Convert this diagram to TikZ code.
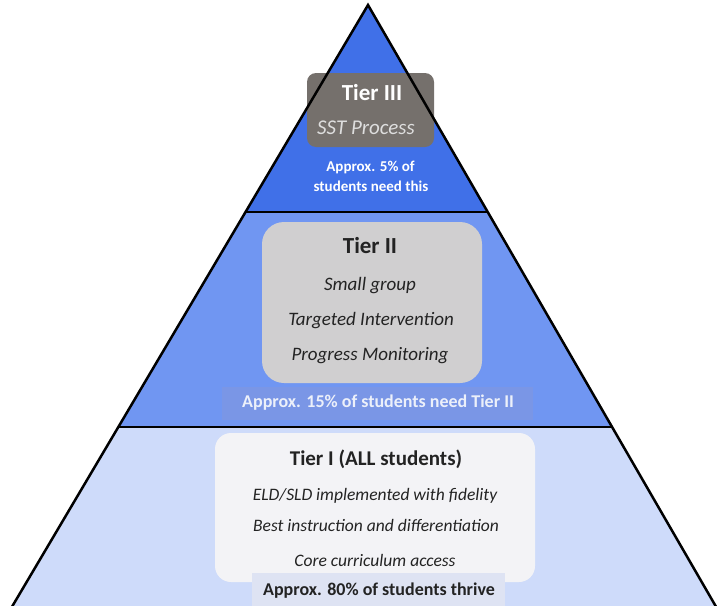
\documentclass[tikz,border=0pt]{standalone}
\usepackage{fontspec}
\setmainfont{Carlito}
\definecolor{tierthree}{RGB}{64,112,232}
\definecolor{tiertwo}{RGB}{112,150,242}
\definecolor{tierone}{RGB}{206,219,250}
\definecolor{boxthree}{RGB}{117,112,108}
\definecolor{boxtwo}{RGB}{208,207,208}
\definecolor{boxone}{RGB}{243,243,246}
\definecolor{bandtwo}{RGB}{122,150,230}
\definecolor{bandone}{RGB}{222,227,243}
\definecolor{darktext}{RGB}{35,35,35}
\definecolor{lighttext}{RGB}{236,240,250}
\definecolor{ssttext}{RGB}{222,222,222}
\begin{document}
\begin{tikzpicture}[x=1pt,y=-1pt,
  outline/.style={line width=2.5pt,black,line join=miter},
  panel/.style={rectangle,inner sep=0pt},
  txt/.style={inner sep=0pt,text height=0.64em,text depth=0pt,anchor=center},
  boldtxt/.style={txt,font=\bfseries},
  itxt/.style={txt,font=\itshape}]
\useasboundingbox (0,0) rectangle (717,605);
\clip (0,0) rectangle (717,605);
% corner coordinates
\coordinate (apex) at (368,5);
\coordinate (l1) at (245.5,212);
\coordinate (r1) at (487.7,212);
\coordinate (l2) at (118.3,427);
\coordinate (r2) at (612.1,427);
\coordinate (lb) at (1.2,625);
\coordinate (rb) at (726.6,625);
% tier fills
\fill[tierthree] (apex) -- (l1) -- (r1) -- cycle;
\fill[tiertwo] (l1) -- (r1) -- (r2) -- (l2) -- cycle;
\fill[tierone] (l2) -- (r2) -- (rb) -- (lb) -- cycle;
% boxes
\node[panel,fill=boxthree,rounded corners=9pt,minimum width=127pt,minimum height=74pt] (box3) at (370.5,110) {};
\node[panel,fill=boxtwo,rounded corners=22pt,minimum width=220pt,minimum height=161pt] (box2) at (372,302.5) {};
\node[panel,fill=bandtwo,minimum width=311pt,minimum height=33pt] (band2) at (377.5,403.5) {};
\node[panel,fill=boxone,rounded corners=16pt,minimum width=320pt,minimum height=149pt] (box1) at (375,507.5) {};
\node[panel,fill=bandone,minimum width=253pt,minimum height=34pt] (band1) at (378.5,590) {};
% outline and dividers
\draw[outline] (lb) -- (apex) -- (rb);
\draw[outline] (l1) -- (r1);
\draw[outline] (l2) -- (r2);
% Tier III texts
\node[boldtxt,font=\bfseries\fontsize{23}{26}\selectfont,white] (t3) at (372,97) {Tier III};
\node[itxt,font=\itshape\fontsize{21}{24}\selectfont,ssttext] (t3a) at (366,131) {SST Process};
\node[boldtxt,font=\bfseries\fontsize{15}{18}\selectfont,white] (t3b) at (370.5,168) {Approx. 5\% of};
\node[boldtxt,font=\bfseries\fontsize{15}{18}\selectfont,white] (t3c) at (371,188) {students need this};
% Tier II texts
\node[boldtxt,font=\bfseries\fontsize{23}{26}\selectfont,darktext] (t2) at (370,250) {Tier II};
\node[itxt,font=\itshape\fontsize{19}{22}\selectfont,darktext] (t2a) at (370,287) {Small group};
\node[itxt,font=\itshape\fontsize{19}{22}\selectfont,darktext] (t2b) at (371,322) {Targeted Intervention};
\node[itxt,font=\itshape\fontsize{19}{22}\selectfont,darktext] (t2c) at (370,357) {Progress Monitoring};
\node[boldtxt,font=\bfseries\fontsize{18}{21}\selectfont,lighttext] (t2d) at (378,404) {Approx. 15\% of students need Tier II};
% Tier I texts
\node[boldtxt,font=\bfseries\fontsize{21}{24}\selectfont,darktext] (t1) at (376,462) {Tier I (ALL students)};
\node[itxt,font=\itshape\fontsize{17.5}{20}\selectfont,darktext] (t1a) at (375,497) {ELD/SLD implemented with fidelity};
\node[itxt,font=\itshape\fontsize{17.5}{20}\selectfont,darktext] (t1b) at (376,528) {Best instruction and differentiation};
\node[itxt,font=\itshape\fontsize{17.5}{20}\selectfont,darktext] (t1c) at (375,563) {Core curriculum access};
\node[boldtxt,font=\bfseries\fontsize{18}{21}\selectfont,darktext] (t1d) at (379,592) {Approx. 80\% of students thrive};
\end{tikzpicture}
\end{document}
